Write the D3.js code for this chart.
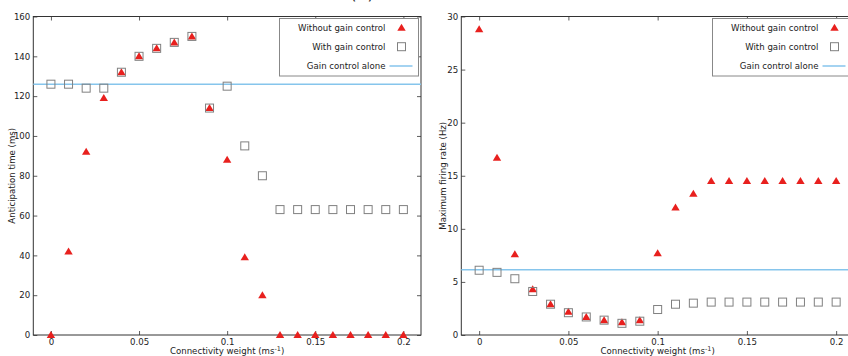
<!DOCTYPE html>
<html><head><meta charset="utf-8">
<script src="https://cdn.jsdelivr.net/npm/d3@7"></script>
<style>
html,body{margin:0;padding:0;background:#fff;}
svg{display:block;font-family:"DejaVu Sans",sans-serif;}
</style></head>
<body><svg id="chart" width="848" height="356"></svg>
<script>
// ---- data ----
const weights = [0,0.01,0.02,0.03,0.04,0.05,0.06,0.07,0.08,0.09,0.10,0.11,0.12,0.13,0.14,0.15,0.16,0.17,0.18,0.19,0.20];
const anticipationWithout = [0,42,92,119,132,140,144,147,150,114,88,39,20,0,0,0,0,0,0,0,0];
const anticipationWith    = [126,126,124,124,132,140,144,147,150,114,125,95,80,63,63,63,63,63,63,63,63];
const anticipationAlone = 126;
const firingWithout = [28.8,16.7,7.6,4.3,2.9,2.2,1.7,1.4,1.2,1.4,7.7,12.0,13.3,14.5,14.5,14.5,14.5,14.5,14.5,14.5,14.5];
const firingWith    = [6.1,5.9,5.3,4.1,2.9,2.1,1.7,1.4,1.1,1.3,2.4,2.9,3.0,3.1,3.1,3.1,3.1,3.1,3.1,3.1,3.1];
const firingAlone = 6.15;
const xTicks = [0,0.05,0.1,0.15,0.2];
const xTickLabels = ["0","0.05","0.1","0.15","0.2"];
const yTicksA = [0,20,40,60,80,100,120,140,160];
const yTicksB = [0,5,10,15,20,25,30];
const legendLabels = ["Without gain control","With gain control","Gain control alone"];
const xLabel = "Connectivity weight (ms";
const figTitle = "(A)";

const svg = d3.select("#chart");
const RED = "#e8201e", SQ = "#808080", BLUE = "#86c5ec", AX = "#333";
const FS = 8.6;

svg.append("text").attr("x",362).attr("y",-1).attr("text-anchor","middle")
  .attr("font-size",16).attr("fill","#222").text(figTitle);

function panel(cfg){
  const x = d3.scaleLinear().domain([-0.01,0.21]).range([cfg.left,cfg.right]);
  const y = d3.scaleLinear().domain(cfg.ydom).range([335,16.5]);
  const g = svg.append("g");
  const tl = 4;
  const ax = g.append("g").attr("transform",`translate(0,${y.range()[0]})`)
    .call(d3.axisBottom(x).tickValues(xTicks).tickFormat((d,i)=>xTickLabels[i]).tickSizeInner(-tl).tickSizeOuter(0).tickPadding(4));
  const axT = g.append("g").attr("transform",`translate(0,${y.range()[1]})`)
    .call(d3.axisTop(x).tickValues(xTicks).tickFormat("").tickSizeInner(-tl).tickSizeOuter(0));
  const ay = g.append("g").attr("transform",`translate(${cfg.left},0)`)
    .call(d3.axisLeft(y).tickValues(cfg.yticks).tickSizeInner(-tl).tickSizeOuter(0).tickPadding(3));
  const ayR = g.append("g").attr("transform",`translate(${cfg.right},0)`)
    .call(d3.axisRight(y).tickValues(cfg.yticks).tickFormat("").tickSizeInner(-tl).tickSizeOuter(0));
  [ax,axT,ay,ayR].forEach(a=>{
    a.select(".domain").remove();
    a.selectAll("line").attr("stroke",AX).attr("stroke-width",0.8);
    a.selectAll("text").attr("font-size",FS).attr("fill","#222").attr("font-family","DejaVu Sans");
  });
  g.append("rect").attr("x",cfg.left).attr("y",y.range()[1])
    .attr("width",cfg.right-cfg.left).attr("height",y.range()[0]-y.range()[1])
    .attr("fill","none").attr("stroke",AX).attr("stroke-width",1);
  g.append("line").attr("x1",cfg.left).attr("x2",cfg.right)
    .attr("y1",y(cfg.alone)).attr("y2",y(cfg.alone))
    .attr("stroke",BLUE).attr("stroke-width",1.5);
  const tri = "M0,-4L4.2,3L-4.2,3Z";
  g.selectAll(".tri").data(cfg.without).join("path").attr("class","tri")
    .attr("d",tri).attr("transform",(d,i)=>`translate(${x(weights[i])},${y(d)})`)
    .attr("fill",RED);
  g.selectAll(".sq").data(cfg.with).join("rect").attr("class","sq")
    .attr("x",(d,i)=>x(weights[i])-4).attr("y",d=>y(d)-4)
    .attr("width",8).attr("height",8).attr("fill","none")
    .attr("stroke",SQ).attr("stroke-width",1);
  const xl = g.append("text").attr("x",(x(0)+x(0.2))/2).attr("y",354)
    .attr("text-anchor","middle").attr("font-size",FS).attr("fill","#222");
  xl.append("tspan").text(xLabel);
  xl.append("tspan").attr("dy",-3.5).attr("font-size",6.5).text("-1");
  xl.append("tspan").attr("dy",3.5).text(")");
  g.append("text").attr("transform",`translate(${cfg.ylabX},${(y.range()[0]+y.range()[1])/2}) rotate(-90)`)
    .attr("text-anchor","middle").attr("font-size",FS).attr("fill","#222").text(cfg.ylabel);
  const lr = cfg.right-2.5, lt = 18.5;
  const lg = g.append("g");
  lg.append("rect").attr("x",lr-139).attr("y",lt).attr("width",139).attr("height",57.5)
    .attr("fill","#fff").attr("stroke","#888").attr("stroke-width",1);
  const rows = [27.7,46.7,66];
  legendLabels.forEach((t,i)=>{
    lg.append("text").attr("x",lr-33).attr("y",rows[i]+3.2).attr("text-anchor","end")
      .attr("font-size",FS).attr("fill","#222").text(t);
  });
  lg.append("path").attr("d",tri).attr("transform",`translate(${lr-17},${rows[0]})`).attr("fill",RED);
  lg.append("rect").attr("x",lr-21).attr("y",rows[1]-4).attr("width",8).attr("height",8)
    .attr("fill","none").attr("stroke",SQ);
  lg.append("line").attr("x1",lr-29).attr("x2",lr-6).attr("y1",rows[2]).attr("y2",rows[2])
    .attr("stroke",BLUE).attr("stroke-width",1.5);
}

panel({left:33.3,right:421,ydom:[0,160],yticks:yTicksA,without:anticipationWithout,with:anticipationWith,
  alone:anticipationAlone,ylabel:"Anticipation time (ms)",ylabX:15});
panel({left:461.3,right:854,ydom:[0,30],yticks:yTicksB,without:firingWithout,with:firingWith,
  alone:firingAlone,ylabel:"Maximum firing rate (Hz)",ylabX:446});
</script></body></html>
